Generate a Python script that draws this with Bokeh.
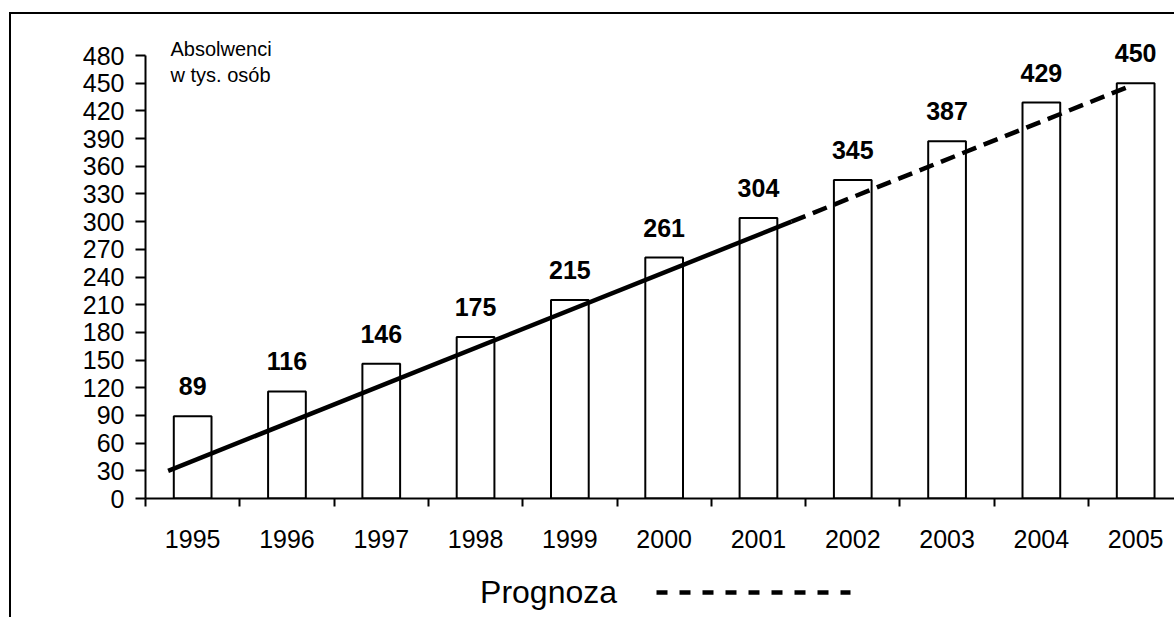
from bokeh.plotting import figure
from bokeh.models import (Range1d, FixedTicker, Label, LinearAxis, ColumnDataSource)
from bokeh.core.properties import value
from bokeh.embed import file_html
from bokeh.resources import INLINE

# ---- data ----
years = [1995, 1996, 1997, 1998, 1999, 2000, 2001, 2002, 2003, 2004, 2005]
graduates = [89, 116, 146, 175, 215, 261, 304, 345, 387, 429, 450]
y_ticks = list(range(0, 481, 30))
trend_solid_x = [1994.74, 2001.35]
trend_solid_y = [30, 300]
trend_dash_x = [2001.35, 2004.92]
trend_dash_y = [300, 446]
unit_text = "Absolwenci\nw tys. osób"
legend_text = "Prognoza"

FONT = "Liberation Sans"

p = figure(width=1165, height=605, output_backend="svg", toolbar_location=None,
           x_range=Range1d(1994.5, 2005.433), y_range=Range1d(0, 520.1))
p.min_border = 0
p.min_border_left = 134
p.min_border_right = 0
p.min_border_top = 4
p.min_border_bottom = 121
p.outline_line_color = None
p.background_fill_color = "white"
p.border_fill_color = "white"
p.xgrid.visible = False
p.ygrid.visible = False
p.styles = {"margin-left": "9px", "margin-top": "12px",
            "border-left": "2px solid black", "border-top": "2px solid black"}

src = ColumnDataSource(dict(x=years, top=graduates, lab=[str(v) for v in graduates]))
p.vbar(x="x", top="top", bottom=0, width=0.4, source=src,
       fill_color="white", line_color="black", line_width=2)
p.text(x="x", y="top", text="lab", source=src, y_offset=-30,
       text_align="center", text_baseline="alphabetic",
       text_font=value(FONT), text_font_style="bold", text_font_size="25px",
       text_color="black")

p.line(trend_solid_x, trend_solid_y, line_color="black", line_width=4.5)
p.line(trend_dash_x, trend_dash_y, line_color="black", line_width=4.5,
       line_dash="15 8")

# axes
xa = p.xaxis[0]
xa.ticker = FixedTicker(ticks=years, minor_ticks=[y - 0.5 for y in years] + [2005.5])
xa.major_label_overrides = {y: str(y) for y in years}
xa.major_tick_line_color = None
xa.major_tick_out = 0
xa.major_tick_in = 0
xa.minor_tick_line_color = "black"
xa.minor_tick_line_width = 2
xa.minor_tick_out = 8
xa.minor_tick_in = 0
xa.axis_line_width = 2
xa.axis_line_color = "black"
xa.major_label_standoff = 23
xa.major_label_text_font = FONT
xa.major_label_text_font_size = "25px"
xa.major_label_text_color = "black"
xa.axis_label = " "
xa.axis_label_text_font_size = "20px"
xa.axis_label_standoff = 17

ya = p.yaxis[0]
ya.ticker = FixedTicker(ticks=y_ticks, minor_ticks=[])
ya.bounds = (0, 480)
ya.major_tick_out = 10
ya.major_tick_in = 0
ya.major_tick_line_width = 2
ya.major_tick_line_color = "black"
ya.axis_line_width = 2
ya.axis_line_color = "black"
ya.major_label_standoff = 11
ya.major_label_text_font = FONT
ya.major_label_text_font_size = "25px"
ya.major_label_text_color = "black"

p.add_layout(Label(x=25, y=461, x_units="screen", y_units="screen", text=unit_text,
                   text_font=FONT, text_font_size="20px", text_baseline="top",
                   text_line_height=1.22, text_color="black"))

# legend row: "Prognoza" + dashed sample, drawn as a second bottom axis
legend_label_pos = 1998.774
legend_axis = LinearAxis(ticker=FixedTicker(ticks=[legend_label_pos], minor_ticks=[]),
                         major_label_overrides={legend_label_pos: legend_text},
                         bounds=(1999.919, 2001.98))
legend_axis.axis_line_color = "black"
legend_axis.axis_line_width = 4.5
legend_axis.axis_line_dash = "11 12"
legend_axis.axis_line_cap = "butt"
legend_axis.major_tick_line_color = None
legend_axis.major_tick_out = 0
legend_axis.major_tick_in = 0
legend_axis.minor_tick_line_color = None
legend_axis.major_label_standoff = -19
legend_axis.major_label_text_font = FONT
legend_axis.major_label_text_font_size = "32px"
legend_axis.major_label_text_color = "black"
p.add_layout(legend_axis, "below")

open("out.html", "w").write(file_html(p, INLINE))
